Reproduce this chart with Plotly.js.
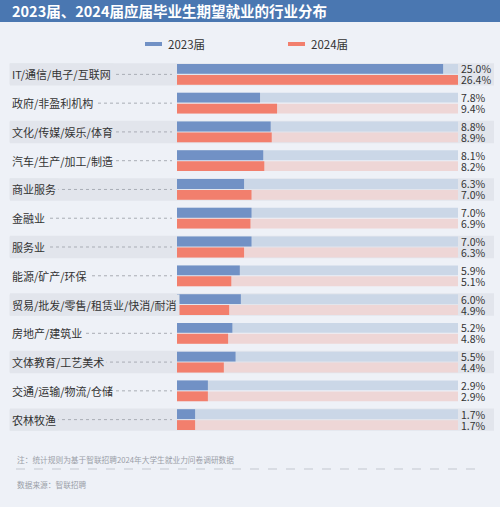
<!DOCTYPE html>
<html>
<head>
<meta charset="utf-8">
<script src="https://cdn.plot.ly/plotly-3.0.1.min.js"></script>
<style>
  html, body { margin: 0; padding: 0; background: #eef1f7; }
  #chart { width: 500px; height: 507px; }
</style>
</head>
<body>
<div id="chart"></div>
<script>
// ---- data ----
const chartTitle = '2023届、2024届应届毕业生期望就业的行业分布';
const categories = [
  'IT/通信/电子/互联网',
  '政府/非盈利机构',
  '文化/传媒/娱乐/体育',
  '汽车/生产/加工/制造',
  '商业服务',
  '金融业',
  '服务业',
  '能源/矿产/环保',
  '贸易/批发/零售/租赁业/快消/耐消',
  '房地产/建筑业',
  '文体教育/工艺美术',
  '交通/运输/物流/仓储',
  '农林牧渔'
];
const values2023 = [25.0, 7.8, 8.8, 8.1, 6.3, 7.0, 7.0, 5.9, 6.0, 5.2, 5.5, 2.9, 1.7];
const values2024 = [26.4, 9.4, 8.9, 8.2, 7.0, 6.9, 6.3, 5.1, 4.9, 4.8, 4.4, 2.9, 1.7];
const seriesNames = ['2023届', '2024届'];
const noteText = '注：统计规则为基于智联招聘2024年大学生就业力问卷调研数据';
const sourceText = '数据来源：智联招聘';

// ---- geometry helpers ----
const W = 500, H = 507;
const M = { l: 177, r: 4, t: 60, b: 73 };
const px = p => (p - M.l) / (W - M.l - M.r);
const py = p => (H - M.b - p) / (H - M.t - M.b);

const FONT = '"Noto Sans CJK SC", "Noto Sans", sans-serif';
const BLUE = '#7191c5', RED = '#f27f6d';
const BLUE_T = '#cbd7e7', RED_T = '#eed6d6';
const BG = '#eef1f7', STRIPE = '#e2e5ec';

const fullScale = Math.max(...values2023, ...values2024);
const track = categories.map(() => fullScale);
const fmt = v => v.toFixed(1) + '%';

const common = {
  y: categories, type: 'bar', orientation: 'h',
  hoverinfo: 'skip', showlegend: false, cliponaxis: false
};

const traces = [
  Object.assign({}, common, {
    x: track, offsetgroup: 'a', marker: { color: BLUE_T },
    text: values2023.map(fmt), textposition: 'outside', constraintext: 'none',
    textfont: { size: 10.5, color: '#333', family: FONT }
  }),
  Object.assign({}, common, {
    x: track, offsetgroup: 'b', marker: { color: RED_T },
    text: values2024.map(fmt), textposition: 'outside', constraintext: 'none',
    textfont: { size: 10.5, color: '#333', family: FONT }
  }),
  Object.assign({}, common, {
    x: values2023, name: seriesNames[0], offsetgroup: 'a', marker: { color: BLUE }, textposition: 'none'
  }),
  Object.assign({}, common, {
    x: values2024, name: seriesNames[1], offsetgroup: 'b', marker: { color: RED }, textposition: 'none'
  })
];

const shapes = [];
const annotations = [];

// title bar
shapes.push({ type: 'rect', xref: 'paper', yref: 'paper', x0: px(0), x1: px(500), y0: py(22), y1: py(0),
  fillcolor: '#4a77b1', line: { width: 0 }, layer: 'below' });
annotations.push({ xref: 'paper', yref: 'paper', x: px(10), y: py(11), xanchor: 'left', yanchor: 'middle',
  text: '<b>' + chartTitle + '</b>', showarrow: false, font: { size: 14.5, color: '#ffffff', family: FONT } });

// legend
[[145, BLUE], [288, RED]].forEach((d, k) => {
  shapes.push({ type: 'rect', xref: 'paper', yref: 'paper', x0: px(d[0]), x1: px(d[0] + 17), y0: py(46), y1: py(42),
    fillcolor: d[1], line: { width: 0 } });
  annotations.push({ xref: 'paper', yref: 'paper', x: px(d[0] + 21), y: py(44), xanchor: 'left', yanchor: 'middle',
    text: seriesNames[k], showarrow: false, font: { size: 11.5, color: '#333', family: FONT } });
});

// row stripes, leaders, labels
categories.forEach((c, i) => {
  if (i % 2 === 0) {
    shapes.push({ type: 'rect', xref: 'paper', yref: 'y', x0: px(10), x1: px(494), y0: i - 0.39, y1: i + 0.39,
      fillcolor: STRIPE, line: { width: 0 }, layer: 'below' });
  }
});
categories.forEach((c, i) => {
  shapes.push({ type: 'line', xref: 'paper', yref: 'y', x0: px(14), x1: px(172), y0: i, y1: i,
    line: { color: '#a9adb5', width: 1, dash: 'dot' }, layer: 'below' });
  annotations.push({ xref: 'paper', yref: 'y', x: px(9), y: c, xanchor: 'left', yanchor: 'middle',
    text: c, showarrow: false, bgcolor: i % 2 === 0 ? STRIPE : BG, borderpad: 2,
    font: { size: 11, color: '#333', family: FONT } });
});

// footer
annotations.push({ xref: 'paper', yref: 'paper', x: px(15), y: py(459), xanchor: 'left', yanchor: 'middle',
  text: noteText, showarrow: false, font: { size: 7.7, color: '#9a9ea7', family: FONT } });
shapes.push({ type: 'line', xref: 'paper', yref: 'paper', x0: px(16), x1: px(480), y0: py(469), y1: py(469),
  line: { color: '#c3c7cf', width: 1, dash: 'dash' } });
annotations.push({ xref: 'paper', yref: 'paper', x: px(15), y: py(485), xanchor: 'left', yanchor: 'middle',
  text: sourceText, showarrow: false, font: { size: 7.7, color: '#9a9ea7', family: FONT } });

const xMax = fullScale * (W - M.l - M.r) / (458 - M.l);

const layout = {
  width: W, height: H,
  margin: M,
  paper_bgcolor: BG, plot_bgcolor: 'rgba(0,0,0,0)',
  barmode: 'group', bargap: 0.24, bargroupgap: 0.1,
  showlegend: false,
  font: { family: FONT },
  xaxis: { range: [0, xMax], visible: false, fixedrange: true },
  yaxis: { type: 'category', autorange: 'reversed', showticklabels: false, showgrid: false,
    zeroline: false, showline: false, ticks: '', fixedrange: true },
  shapes: shapes,
  annotations: annotations
};

Plotly.newPlot('chart', traces, layout, { displayModeBar: false, staticPlot: true });
</script>
</body>
</html>
